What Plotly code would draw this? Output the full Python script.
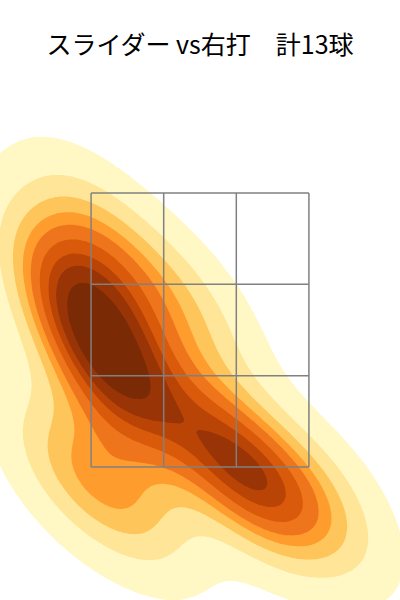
import numpy as np
import plotly.graph_objects as go

# ---- data: 13 slider locations vs right-handed batters (ft) ----
pitch_x = [-0.81, -0.73, -0.65, -0.57, -0.51, 0.12, 0.26, 0.40, -0.85, -0.46, -0.10, -0.65, 0.78]
pitch_y = [2.87, 2.65, 2.43, 2.21, 2.03, 1.65, 1.49, 1.33, 1.48, 1.26, 2.65, 3.19, 1.26]

TITLE = "スライダー vs右打　計13球"
band_colors = ['#fff7c4', '#fee597', '#fec55a', '#fe9c2e', '#ef751c',
               '#d95a0b', '#b94406', '#983406', '#7a2a05']
zone_x_edges = [-0.708, -0.236, 0.236, 0.708]
zone_y_edges = [1.5, 2.1667, 2.8333, 3.5]
x_range = [-1.3, 1.3]
y_range = [0.529, 4.179]
bw_adjust = 1.0

# ---- gaussian KDE (Scott bandwidth, full covariance) ----
pts = np.vstack([pitch_x, pitch_y])
n = pts.shape[1]
factor = n ** (-1.0 / 6.0) * bw_adjust
cov = np.cov(pts) * factor ** 2
inv = np.linalg.inv(cov)
bw = np.sqrt(np.diag(cov))
gx = np.linspace(min(pitch_x) - 3 * bw[0], max(pitch_x) + 3 * bw[0], 220)
gy = np.linspace(min(pitch_y) - 3 * bw[1], max(pitch_y) + 3 * bw[1], 220)
XX, YY = np.meshgrid(gx, gy)
Z = np.zeros_like(XX)
for px, py in zip(pitch_x, pitch_y):
    dx = XX - px
    dy = YY - py
    Z += np.exp(-0.5 * (inv[0, 0] * dx * dx + 2 * inv[0, 1] * dx * dy + inv[1, 1] * dy * dy))
Z /= (2 * np.pi * np.sqrt(np.linalg.det(cov)) * n)

# iso-proportion levels (10 levels, thresh 0.05)
isoprop = np.linspace(0.05, 1, 10)
vals = np.ravel(Z)
sv = np.sort(vals)[::-1]
cum = np.cumsum(sv) / vals.sum()
idx = np.searchsorted(cum, 1 - isoprop)
levels = np.take(sv, idx, mode="clip")
ZT = np.interp(Z, np.r_[0.0, levels], np.arange(-1, 10))
ZT = np.round(ZT, 3)

# stepwise colorscale: background white, then 9 bands
cs = [[0.0, 'rgba(255,255,255,0)'], [0.05, 'rgba(255,255,255,0)']]
for k, c in enumerate(band_colors):
    lo = round(0.05 + 0.1 * k, 4)
    hi = round(lo + 0.1, 4) if k < 8 else 1.0
    cs.append([lo, c])
    cs.append([hi, c])

fig = go.Figure()
fig.add_trace(go.Contour(
    x=gx, y=gy, z=ZT,
    contours=dict(start=0, end=9, size=1, coloring='fill', showlines=False),
    line=dict(width=0),
    colorscale=cs, showscale=False, hoverinfo='skip',
))

shapes = []
for xv in zone_x_edges:
    shapes.append(dict(type='line', xref='x', yref='y', x0=xv, x1=xv,
                       y0=zone_y_edges[0], y1=zone_y_edges[-1],
                       line=dict(color='#808080', width=1.5), layer='above'))
for yv in zone_y_edges:
    shapes.append(dict(type='line', xref='x', yref='y', x0=zone_x_edges[0], x1=zone_x_edges[-1],
                       y0=yv, y1=yv,
                       line=dict(color='#808080', width=1.5), layer='above'))

fig.update_layout(
    width=400, height=600,
    margin=dict(l=0, r=0, t=100, b=0),
    paper_bgcolor='white', plot_bgcolor='white',
    title=dict(text=TITLE, x=0.5, xanchor='center', y=1 - 45 / 600, yanchor='middle',
               font=dict(family='Noto Sans CJK JP', size=25, color='black')),
    xaxis=dict(range=x_range, visible=False, fixedrange=True),
    yaxis=dict(range=y_range, visible=False, fixedrange=True),
    shapes=shapes,
    showlegend=False,
)
fig.write_html("out.html", config={'displayModeBar': False},
               post_script="document.body.style.margin='0';")
